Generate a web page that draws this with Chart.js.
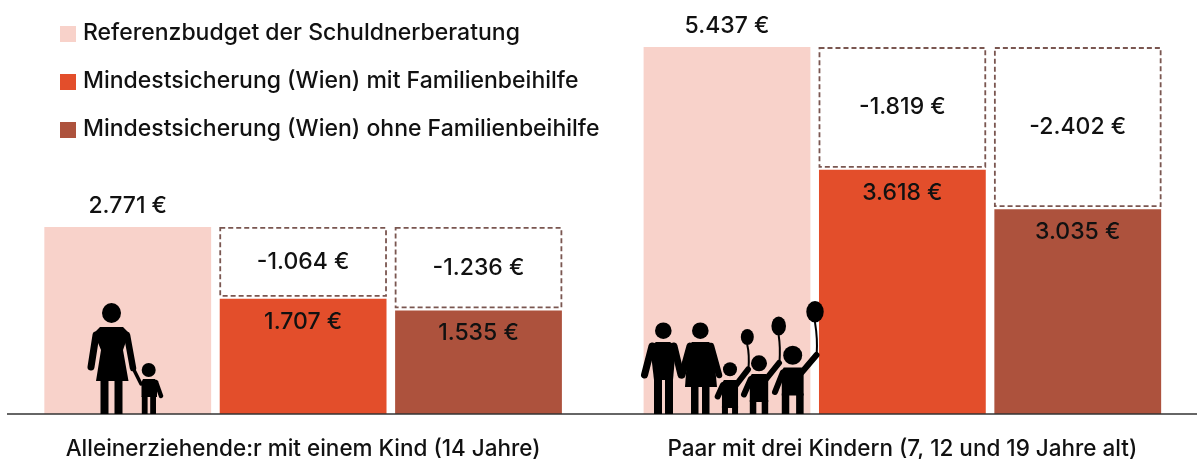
<!DOCTYPE html>
<html lang="de">
<head>
<meta charset="utf-8">
<title>Referenzbudget und Mindestsicherung</title>
<script src="https://cdn.jsdelivr.net/npm/chart.js@4"></script>
<style>
  html, body { margin: 0; background: #fff; overflow: hidden; }
  canvas { display: block; }
</style>
</head>
<body>
<canvas id="chart" width="1202" height="459"></canvas>
<script>
/* ================= DATA ================= */

const categories = ["Alleinerziehende:r mit einem Kind (14 Jahre)", "Paar mit drei Kindern (7, 12 und 19 Jahre alt)"];
const referenzbudget = [2771, 5437];
const mitBeihilfe = [1707, 3618];
const ohneBeihilfe = [1535, 3035];
const luckeMit = [1064, 1819];
const luckeOhne = [1236, 2402];

const FONT = "Inter";
const TEXT = "#111111";
const LIGHT = "#F8D2CA";
const ORANGE = "#E34E2B";
const BROWN = "#AD523D";
const DASH = "#7A5650";

function euro(v) {
  return v.toLocaleString("de-DE") + " €";
}

function legendSquare(color) {
  const c = document.createElement("canvas");
  c.width = 16;
  c.height = 16;
  const g = c.getContext("2d");
  g.fillStyle = color;
  g.fillRect(0, 0, 16, 16);
  return c;
}

/* ================= PLUGINS ================= */

// legend sits over the empty top left corner
const legendPlace = {
  id: "legendPlace",
  beforeDraw(chart) {
    chart.legend.left = 39.5;
    chart.legend.top = -3;
  }
};

// dashed boxes for the gap + baseline
const gapBoxes = {
  id: "gapBoxes",
  afterDatasetsDraw(chart) {
    const ctx = chart.ctx;
    ctx.save();
    ctx.strokeStyle = DASH;
    ctx.lineWidth = 1.8;
    ctx.setLineDash([5, 3]);
    [3, 4].forEach(i => {
      chart.getDatasetMeta(i).data.forEach(bar => {
        const left = bar.x - bar.width / 2;
        ctx.strokeRect(left + 0.5, bar.y + 1, bar.width - 1, bar.base - bar.y - 4);
      });
    });
    ctx.setLineDash([]);
    const y0 = chart.scales.y.getPixelForValue(0);
    ctx.strokeStyle = "#333333";
    ctx.lineWidth = 1.5;
    ctx.beginPath();
    ctx.moveTo(7, y0);
    ctx.lineTo(1197, y0);
    ctx.stroke();
    ctx.restore();
  }
};

// euro labels on the bars
const valueLabels = {
  id: "valueLabels",
  afterDatasetsDraw(chart) {
    const ctx = chart.ctx;
    ctx.save();
    ctx.fillStyle = TEXT;
    ctx.font = "500 23px " + FONT;
    ctx.textAlign = "center";
    ctx.textBaseline = "middle";
    chart.data.datasets.forEach((ds, i) => {
      chart.getDatasetMeta(i).data.forEach((bar, j) => {
        const v = ds.data[j];
        if (i === 0) ctx.fillText(euro(v), bar.x, bar.y - 21);
        else if (i < 3) ctx.fillText(euro(v), bar.x, bar.y + 23);
        else ctx.fillText("-" + euro(v), bar.x, bar.y + (bar.base - bar.y) / 2 - 1);
      });
    });
    ctx.restore();
  }
};

function dot(ctx, x, y, rx, ry) {
  ctx.beginPath();
  ctx.ellipse(x, y, rx, ry || rx, 0, 0, Math.PI * 2);
  ctx.fill();
}

function limb(ctx, x1, y1, x2, y2, w) {
  ctx.lineWidth = w;
  ctx.beginPath();
  ctx.moveTo(x1, y1);
  ctx.lineTo(x2, y2);
  ctx.stroke();
}

function shape(ctx, pts) {
  ctx.beginPath();
  pts.forEach((p, i) => i ? ctx.lineTo(p[0], p[1]) : ctx.moveTo(p[0], p[1]));
  ctx.closePath();
  ctx.fill();
}

function kid(ctx, x, r, headY, shoulderY, legW, armL, armR) {
  dot(ctx, x, headY, r);
  const half = r * 1.15;
  shape(ctx, [[x - half + 2, shoulderY], [x + half - 2, shoulderY], [x + half, shoulderY + 3], [x + half, shoulderY + 28], [x - half, shoulderY + 28], [x - half, shoulderY + 3]]);
  ctx.fillRect(x - half, shoulderY + 26, legW, 414 - shoulderY - 26);
  ctx.fillRect(x + half - legW, shoulderY + 26, legW, 414 - shoulderY - 26);
  limb(ctx, x - half + 1, shoulderY + 5, armL[0], armL[1], 6);
  limb(ctx, x + half - 2, shoulderY + 5, armR[0], armR[1], 6);
}

function balloon(ctx, hx, hy, x, y, rx, ry) {
  ctx.lineWidth = 2;
  ctx.beginPath();
  ctx.moveTo(hx, hy);
  ctx.quadraticCurveTo(hx + 1, hy - 15, x, y + ry);
  ctx.stroke();
  dot(ctx, x, y, rx, ry);
}

// pictograms standing on the first bars
const people = {
  id: "people",
  afterDatasetsDraw(chart) {
    const ctx = chart.ctx;
    ctx.save();
    ctx.fillStyle = "#000";
    ctx.strokeStyle = "#000";
    ctx.lineCap = "round";

    // mother and child
    dot(ctx, 111.5, 313, 9.5, 10);
    shape(ctx, [[100, 327], [123, 327], [129, 333], [123, 350], [128.5, 381], [96, 381], [101, 350], [94, 333]]);
    ctx.fillRect(100.5, 380, 8, 34);
    ctx.fillRect(114.5, 380, 8, 34);
    limb(ctx, 96, 335, 91, 367, 7);
    limb(ctx, 127, 335, 133, 368, 6.5);
    limb(ctx, 132, 366, 141, 384, 3.5);
    dot(ctx, 148.7, 370, 7);
    shape(ctx, [[143, 379], [155, 379], [157, 382], [157, 397], [141.5, 397], [141.5, 382]]);
    ctx.fillRect(141.8, 396, 5.8, 18);
    ctx.fillRect(150.2, 396, 5.8, 18);
    limb(ctx, 156, 382, 161, 396, 4.5);

    // father
    dot(ctx, 663.3, 330.7, 8.3);
    shape(ctx, [[656, 342], [670, 342], [676, 346], [673, 380], [654, 380], [650, 346]]);
    ctx.fillRect(654, 378, 8, 36);
    ctx.fillRect(665, 378, 8, 36);
    limb(ctx, 652, 346, 644.5, 375, 7);
    limb(ctx, 674, 346, 681, 375, 7);

    // mother
    dot(ctx, 700.3, 330.7, 8.3);
    shape(ctx, [[692, 342], [709, 342], [713, 346], [717, 387], [685, 387], [688, 346]]);
    ctx.fillRect(691, 385, 7.5, 29);
    ctx.fillRect(702, 385, 7.5, 29);
    limb(ctx, 690, 346, 682, 375, 7);
    limb(ctx, 711, 346, 719, 375, 6.5);

    // three kids with balloons
    balloon(ctx, 748.5, 369, 747.3, 337, 6.5, 8);
    balloon(ctx, 779.5, 362, 778.7, 326, 7.3, 9.5);
    balloon(ctx, 816.7, 354, 815, 311.7, 8.7, 10.7);
    kid(ctx, 730, 7, 369.3, 380, 6, [717.7, 396.5], [748, 369.5]);
    kid(ctx, 759, 8, 363.3, 374, 6.5, [744, 394.5], [779, 363]);
    kid(ctx, 792.7, 9.5, 355.3, 367.5, 7.5, [775, 392], [816.5, 355]);
    ctx.restore();
  }
};

/* ================= CHART ================= */

function barSet(label, data, color, stack) {
  return { label, data, backgroundColor: color, stack, barPercentage: 0.951, categoryPercentage: 0.878 };
}

new Chart(document.getElementById("chart"), {
  type: "bar",
  data: {
    labels: categories,
    datasets: [
      barSet("Referenzbudget der Schuldnerberatung", referenzbudget, LIGHT, "a"),
      barSet("Mindestsicherung (Wien) mit Familienbeihilfe", mitBeihilfe, ORANGE, "b"),
      barSet("Mindestsicherung (Wien) ohne Familienbeihilfe", ohneBeihilfe, BROWN, "c"),
      barSet("Differenz mit Familienbeihilfe", luckeMit, "rgba(0,0,0,0)", "b"),
      barSet("Differenz ohne Familienbeihilfe", luckeOhne, "rgba(0,0,0,0)", "c")
    ]
  },
  options: {
    responsive: false,
    animation: false,
    layout: { padding: { left: 3.5, right: 0, top: 9, bottom: 0 } },
    scales: {
      x: {
        stacked: true,
        grid: { display: false },
        border: { display: false },
        afterFit(scale) { scale.height = 45; },
        ticks: { padding: 14, color: TEXT, maxRotation: 0, autoSkip: false, font: { family: FONT, size: 22.5, weight: "500" } }
      },
      y: { stacked: true, display: false, min: 0, max: 6000 }
    },
    plugins: {
      tooltip: { enabled: false },
      legend: {
        position: "chartArea",
        align: "start",
        labels: {
          color: TEXT,
          font: { family: FONT, size: 23, weight: "500" },
          padding: 25,
          boxHeight: 16,
          usePointStyle: true,
          pointStyleWidth: 7,
          filter: item => item.datasetIndex < 3,
          generateLabels(chart) {
            return chart.data.datasets.map((ds, i) => ({
              text: ds.label,
              datasetIndex: i,
              fontColor: TEXT,
              lineWidth: 0,
              pointStyle: legendSquare(ds.backgroundColor)
            }));
          }
        }
      }
    }
  },
  plugins: [legendPlace, gapBoxes, people, valueLabels]
});
</script>
</body>
</html>
